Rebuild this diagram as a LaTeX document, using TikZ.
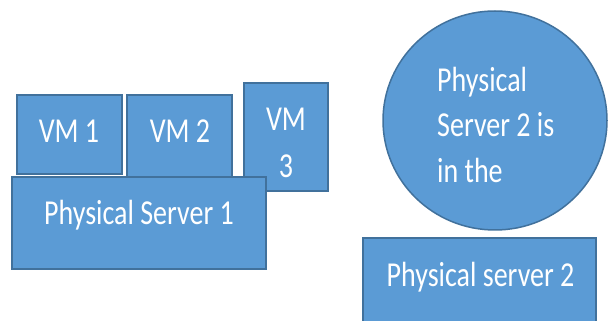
\documentclass[tikz,border=0pt]{standalone}
\usepackage{fontspec}
\setmainfont{Carlito}
\usetikzlibrary{shapes.geometric}
\definecolor{boxfill}{HTML}{5B9BD5}
\definecolor{boxline}{HTML}{41719C}
\tikzset{
  box/.style={fill=boxfill,draw=boxline,line width=2.5pt},
  lbl/.style={text=white,inner sep=0pt,anchor=base,font=\fontsize{28}{34}\selectfont},
}
\newcommand{\tall}[1]{\scalebox{1}[1.25]{#1}}
\begin{document}
\begin{tikzpicture}[x=1pt,y=1pt]
\useasboundingbox (0,0) rectangle (608,321);
\clip (0,0) rectangle (608,321);
% VMs
\draw[box] (17,147) rectangle (122,226);
\draw[box] (127,144) rectangle (232,226);
\draw[box] (244,130) rectangle (328,238);
\node[lbl] (vm1) at (69,178) {\tall{VM 1}};
\node[lbl] (vm2) at (180,178) {\tall{VM 2}};
\node[lbl] (vm3a) at (286,190) {\tall{VM}};
\node[lbl] (vm3b) at (286,143) {\tall{3}};
% Physical server 1
\draw[box] (12,52) rectangle (266,144);
\node[lbl] (ps1) at (139,96) {\tall{Physical Server 1}};
% circle
\node[ellipse,fill=boxfill,draw=boxline,line width=1.5pt,minimum width=224pt,minimum height=219pt,inner sep=0pt] (circ) at (495,200.5) {};
\node[lbl,anchor=base west] (c1) at (437,229) {\tall{Physical}};
\node[lbl,anchor=base west] (c2) at (437,184) {\tall{Server 2 is}};
\node[lbl,anchor=base west] (c3) at (437,138) {\tall{in the}};
% Physical server 2
\draw[box] (363,-10) rectangle (596,83);
\node[lbl] (ps2) at (480.5,34) {\tall{Physical server 2}};
\end{tikzpicture}
\end{document}
